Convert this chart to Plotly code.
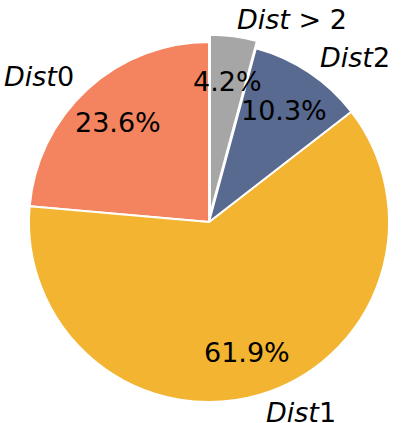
"""Pie chart of distance categories"""

import math
import plotly.graph_objects as go

labels = ["<i>Dist</i>0", "<i>Dist</i>1", "<i>Dist</i>2", "<i>Dist</i> &gt; 2"]
values = [23.6, 61.9, 10.3, 4.2]
colors = ["#F4845F", "#F2B431", "#586A8F", "#A6A6A6"]
pulls = [0, 0, 0, 0.04]

W, H = 416, 423
cx, cy, r = 209, 222, 180  # pie centre / radius in pixels
max_pull = max(pulls)
half = r * (1 + max_pull)
total = sum(values)

fig = go.Figure(
    go.Pie(
        labels=labels,
        values=values,
        sort=False,
        direction="counterclockwise",
        # plotly puts the first slice right of 12 o'clock; rotate so it starts there
        rotation=-values[0] / total * 360,
        pull=pulls,
        textinfo="none",
        hoverinfo="label+percent",
        marker=dict(colors=colors, line=dict(color="white", width=2)),
        domain=dict(
            x=[(cx - half) / W, (cx + half) / W],
            y=[(H - cy - half) / H, (H - cy + half) / H],
        ),
        showlegend=False,
    )
)

# matplotlib style labels: name at 1.1 r, percent at 0.75 r
font = dict(family="DejaVu Sans", size=27, color="black")
start = 90.0
for lab, val, p in zip(labels, values, pulls):
    span = val / total * 360
    mid = math.radians(start + span / 2)
    start += span
    c, s = math.cos(mid), math.sin(mid)
    for dist, text, align in [
        (1.1 + p, lab, "left" if c > 0 else "right"),
        (0.75 + p, f"{val:.1f}%", "center"),
    ]:
        px = cx + dist * r * c
        py = cy - dist * r * s
        fig.add_annotation(
            x=px / W, y=(H - py) / H, xref="paper", yref="paper",
            text=text, showarrow=False, font=font,
            xanchor=align, yanchor="middle", height=26, borderpad=0,
        )

fig.update_layout(
    width=W, height=H,
    margin=dict(l=0, r=0, t=0, b=0),
    paper_bgcolor="white",
    plot_bgcolor="white",
)

# drop the default body margin so the figure fills the window exactly
fig.write_html(
    "out.html",
    config={"displayModeBar": False},
    post_script="document.body.style.margin='0';document.body.style.overflow='hidden';",
)
